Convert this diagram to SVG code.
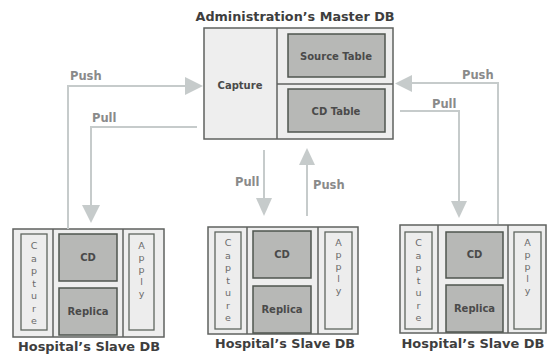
<svg xmlns="http://www.w3.org/2000/svg" width="547" height="354" viewBox="0 0 547 354">
<style>
.panel{fill:#eeeeee;stroke:#5f625f;stroke-width:1.5}
.div{stroke:#5f625f;stroke-width:1.5}
.tbl{fill:#b7b8b6;stroke:#4f554f;stroke-width:1.5}
.col{fill:#ededed;stroke:#5f665f;stroke-width:1.3}
.t{font-family:"DejaVu Sans",Verdana,sans-serif;font-weight:bold;fill:#4a4a4a;text-anchor:middle}
.in{font-size:10px}
.title{font-size:12.5px;fill:#3e3e3e}
.lbl{font-family:"DejaVu Sans",Verdana,sans-serif;font-weight:bold;font-size:11.5px;fill:#8a8a8a}
.vt{font-family:"DejaVu Sans",Verdana,sans-serif;font-size:9.5px;fill:#6a6a6a;text-anchor:middle}
.ln{fill:none;stroke:#c6cbcb;stroke-width:2}
.ah{fill:#c6cbcb}
</style>
<g id="master">
<text class="t title" x="295" y="21" textLength="199" lengthAdjust="spacingAndGlyphs">Administration’s Master DB</text>
<rect class="panel" x="204" y="28" width="189" height="111"/>
<line class="div" x1="277" y1="28" x2="277" y2="139"/>
<line class="div" x1="277" y1="84" x2="393" y2="84"/>
<rect class="tbl" x="288" y="34" width="97" height="43"/>
<rect class="tbl" x="288" y="89" width="97" height="43"/>
<text class="t in" x="240" y="89">Capture</text>
<text class="t in" x="336" y="60">Source Table</text>
<text class="t in" x="336" y="115">CD Table</text>
</g>
<g id="slave1">
<rect class="panel" x="13" y="229" width="151" height="108"/>
<line class="div" x1="53" y1="229" x2="53" y2="337"/>
<line class="div" x1="123" y1="229" x2="123" y2="337"/>
<rect class="col" x="21" y="234" width="26" height="96"/>
<rect class="col" x="129" y="234" width="25" height="96"/>
<rect class="tbl" x="59" y="234" width="58" height="47"/>
<rect class="tbl" x="59" y="288" width="58" height="47"/>
<text class="t in" x="88" y="261">CD</text>
<text class="t in" x="88" y="315">Replica</text>
<text class="vt" x="34" y="249"><tspan x="34">C</tspan><tspan x="34" dy="12.5">a</tspan><tspan x="34" dy="12.5">p</tspan><tspan x="34" dy="12.5">t</tspan><tspan x="34" dy="12.5">u</tspan><tspan x="34" dy="12.5">r</tspan><tspan x="34" dy="12.5">e</tspan></text>
<text class="vt" x="141.5" y="249"><tspan x="141.5">A</tspan><tspan x="141.5" dy="12">p</tspan><tspan x="141.5" dy="12">p</tspan><tspan x="141.5" dy="12">l</tspan><tspan x="141.5" dy="12">y</tspan></text>
<text class="t title" x="89" y="351" textLength="142" lengthAdjust="spacingAndGlyphs">Hospital’s Slave DB</text>
</g>
<g id="slave2">
<rect class="panel" x="208" y="227" width="150" height="107"/>
<line class="div" x1="247" y1="227" x2="247" y2="334"/>
<line class="div" x1="318" y1="227" x2="318" y2="334"/>
<rect class="col" x="215" y="232" width="26" height="97"/>
<rect class="col" x="325" y="232" width="27" height="97"/>
<rect class="tbl" x="253" y="231" width="58" height="47"/>
<rect class="tbl" x="253" y="286" width="58" height="47"/>
<text class="t in" x="282" y="258">CD</text>
<text class="t in" x="282" y="313">Replica</text>
<text class="vt" x="228" y="246"><tspan x="228">C</tspan><tspan x="228" dy="12.5">a</tspan><tspan x="228" dy="12.5">p</tspan><tspan x="228" dy="12.5">t</tspan><tspan x="228" dy="12.5">u</tspan><tspan x="228" dy="12.5">r</tspan><tspan x="228" dy="12.5">e</tspan></text>
<text class="vt" x="338.5" y="246"><tspan x="338.5">A</tspan><tspan x="338.5" dy="12">p</tspan><tspan x="338.5" dy="12">p</tspan><tspan x="338.5" dy="12">l</tspan><tspan x="338.5" dy="12">y</tspan></text>
<text class="t title" x="285" y="348" textLength="140" lengthAdjust="spacingAndGlyphs">Hospital’s Slave DB</text>
</g>
<g id="slave3">
<rect class="panel" x="400" y="225" width="146" height="108"/>
<line class="div" x1="438" y1="225" x2="438" y2="333"/>
<line class="div" x1="508" y1="225" x2="508" y2="333"/>
<rect class="col" x="405" y="232" width="27" height="97"/>
<rect class="col" x="514" y="232" width="27" height="97"/>
<rect class="tbl" x="446" y="232" width="57" height="46"/>
<rect class="tbl" x="446" y="285" width="57" height="47"/>
<text class="t in" x="474.5" y="258">CD</text>
<text class="t in" x="474.5" y="312">Replica</text>
<text class="vt" x="418.5" y="246"><tspan x="418.5">C</tspan><tspan x="418.5" dy="12.5">a</tspan><tspan x="418.5" dy="12.5">p</tspan><tspan x="418.5" dy="12.5">t</tspan><tspan x="418.5" dy="12.5">u</tspan><tspan x="418.5" dy="12.5">r</tspan><tspan x="418.5" dy="12.5">e</tspan></text>
<text class="vt" x="527.5" y="246"><tspan x="527.5">A</tspan><tspan x="527.5" dy="12">p</tspan><tspan x="527.5" dy="12">p</tspan><tspan x="527.5" dy="12">l</tspan><tspan x="527.5" dy="12">y</tspan></text>
<text class="t title" x="473" y="348" textLength="143" lengthAdjust="spacingAndGlyphs">Hospital’s Slave DB</text>
</g>
<g id="connectors">
<path class="ln" d="M68,229 V86 H186"/>
<polygon class="ah" points="185,77 203,86 185,95"/>
<text class="lbl" x="70" y="80">Push</text>
<path class="ln" d="M197,127 H91 V206"/>
<polygon class="ah" points="82,205 100,205 91,223"/>
<text class="lbl" x="92" y="122">Pull</text>
<path class="ln" d="M264,150 V200"/>
<polygon class="ah" points="256,198 272,198 264,216"/>
<text class="lbl" x="235" y="186">Pull</text>
<path class="ln" d="M307,216 V164"/>
<polygon class="ah" points="299,165 315,165 307,148"/>
<text class="lbl" x="313" y="189">Push</text>
<path class="ln" d="M498,224 V83 H411"/>
<polygon class="ah" points="412,75 412,92 395,83.5"/>
<text class="lbl" x="462" y="79">Push</text>
<path class="ln" d="M400,111 H459 V202"/>
<polygon class="ah" points="451,201 467,201 459,218"/>
<text class="lbl" x="432" y="108">Pull</text>
</g>
</svg>
